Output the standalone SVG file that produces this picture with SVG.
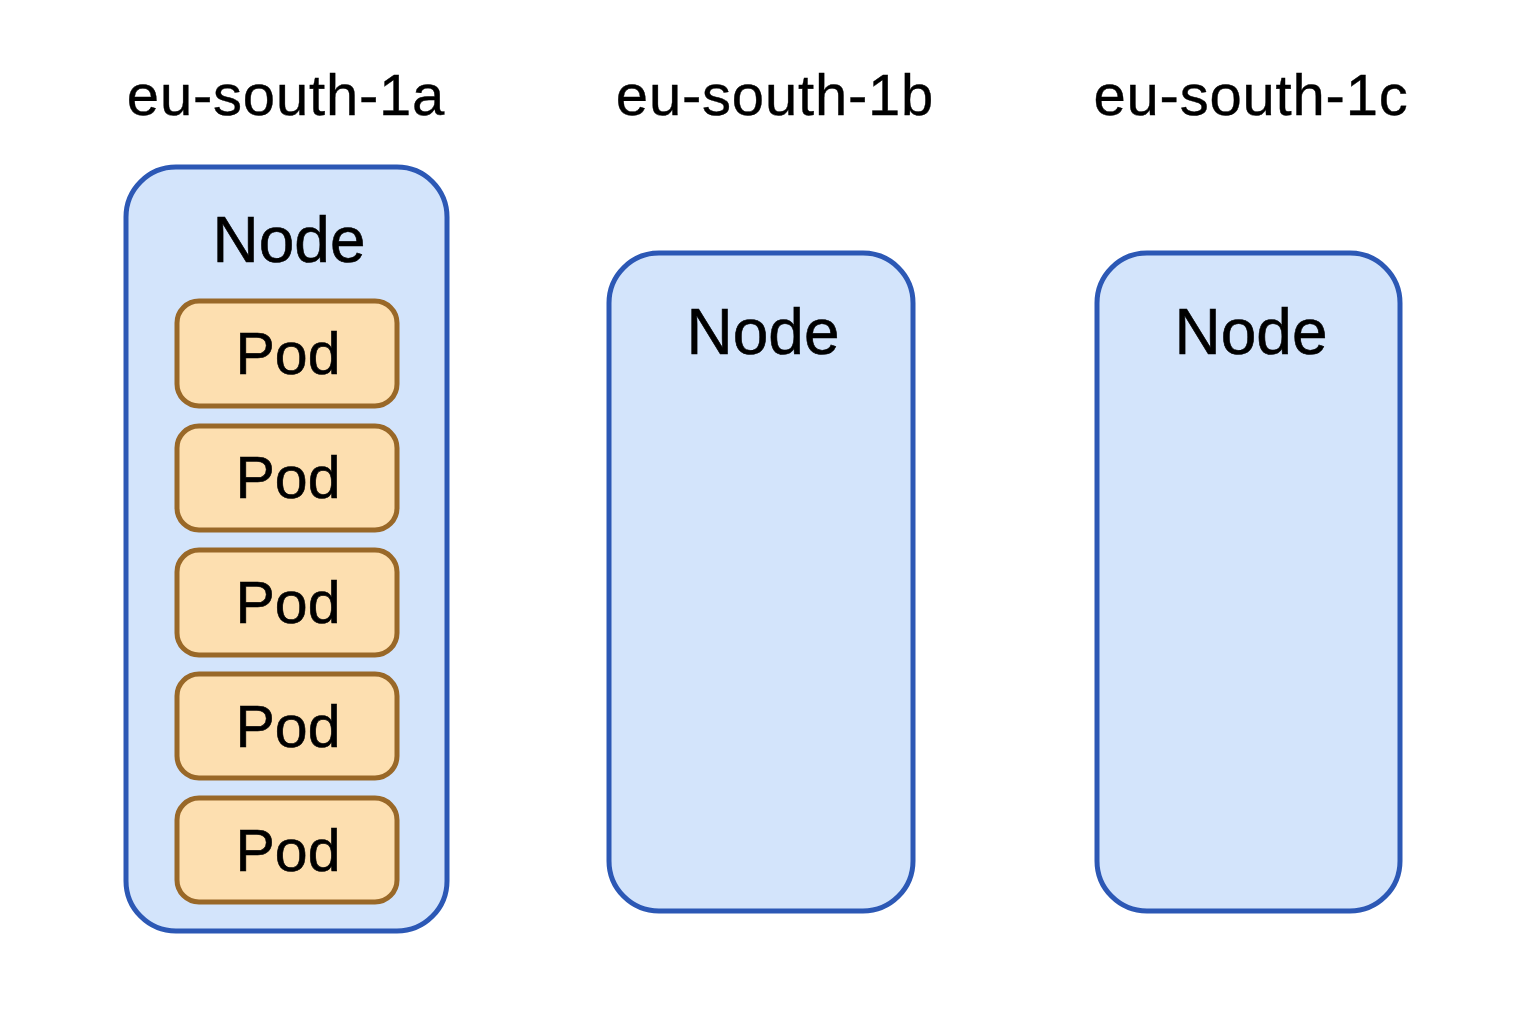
<svg xmlns="http://www.w3.org/2000/svg" width="1536" height="1024" viewBox="0 0 1536 1024">
<style>
.zone{font-family:"Liberation Sans",Arial,sans-serif;font-size:58px;fill:#000;text-anchor:middle;letter-spacing:0.8px;stroke:#000;stroke-width:0.4}
.node rect{fill:#D3E4FB;stroke:#2C58B5;stroke-width:5}
.nt{font-family:"Liberation Sans",Arial,sans-serif;font-size:64px;fill:#000;text-anchor:middle;stroke:#000;stroke-width:0.6}
.pod rect{fill:#FDDFB0;stroke:#996828;stroke-width:5}
.pt{font-family:"Liberation Sans",Arial,sans-serif;font-size:59px;fill:#000;text-anchor:middle;stroke:#000;stroke-width:0.6}
</style>
<rect width="1536" height="1024" fill="#fff"/>
<g id="labels">
<text class="zone" x="286" y="115">eu-south-1a</text>
<text class="zone" x="775" y="115">eu-south-1b</text>
<text class="zone" x="1251" y="115">eu-south-1c</text>
</g>
<g id="node-a" class="node">
<rect x="126" y="167" width="321" height="764" rx="50"/>
<text class="nt" x="289" y="262">Node</text>
</g>
<g id="node-b" class="node">
<rect x="609" y="253" width="304" height="658" rx="50"/>
<text class="nt" x="763" y="354">Node</text>
</g>
<g id="node-c" class="node">
<rect x="1097" y="253" width="303" height="658" rx="50"/>
<text class="nt" x="1251" y="354">Node</text>
</g>
<g id="pod-1" class="pod"><rect x="177" y="301" width="220" height="105" rx="22"/><text class="pt" x="288" y="374">Pod</text></g>
<g id="pod-2" class="pod"><rect x="177" y="426" width="220" height="104" rx="22"/><text class="pt" x="288" y="498">Pod</text></g>
<g id="pod-3" class="pod"><rect x="177" y="550" width="220" height="105" rx="22"/><text class="pt" x="288" y="623">Pod</text></g>
<g id="pod-4" class="pod"><rect x="177" y="674" width="220" height="104" rx="22"/><text class="pt" x="288" y="747">Pod</text></g>
<g id="pod-5" class="pod"><rect x="177" y="798" width="220" height="104" rx="22"/><text class="pt" x="288" y="871">Pod</text></g>
<g id="connectors"/>
</svg>
